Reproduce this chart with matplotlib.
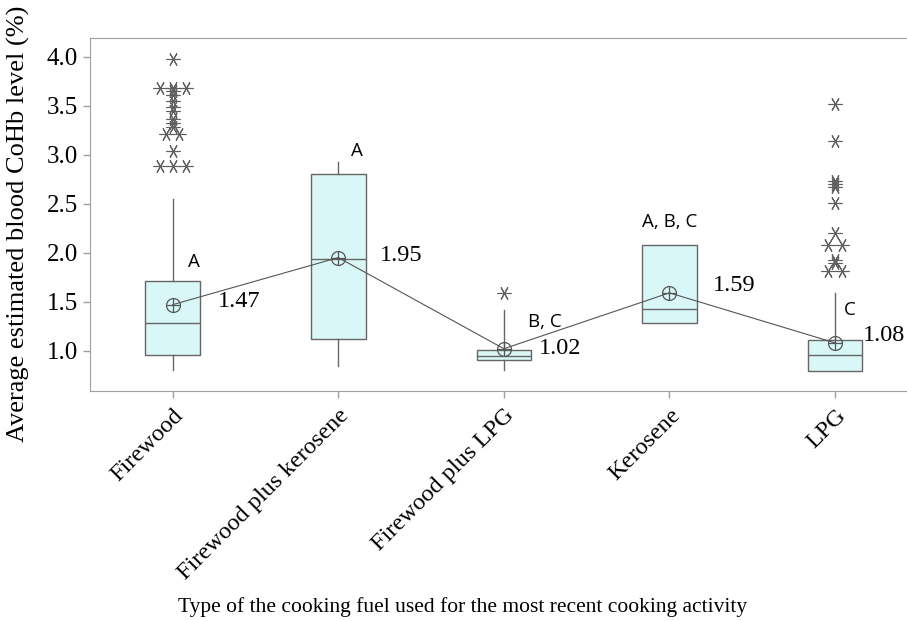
import matplotlib.pyplot as plt
import numpy as np

# fuel categories
fuels = ["Firewood", "Firewood plus kerosene", "Firewood plus LPG", "Kerosene", "LPG"]

# box statistics (CoHb %)
q1 = [0.96, 1.12, 0.90, 1.28, 0.79]
medians = [1.28, 1.94, 0.95, 1.43, 0.96]
q3 = [1.71, 2.80, 1.01, 2.08, 1.11]
whisker_low = [0.80, 0.84, 0.80, 1.28, 0.79]
whisker_high = [2.55, 2.93, 1.42, 2.08, 1.59]
means = [1.47, 1.95, 1.02, 1.59, 1.08]
mean_labels = ["1.47", "1.95", "1.02", "1.59", "1.08"]
groups = ["A", "A", "B, C", "A, B, C", "C"]

outliers = [
    [3.98, 3.68, 3.68, 3.68, 3.65, 3.61, 3.55, 3.49, 3.45, 3.36, 3.32, 3.28,
     3.21, 3.21, 3.04, 2.88, 2.88, 2.88],
    [],
    [1.59],
    [],
    [3.52, 3.14, 2.73, 2.70, 2.67, 2.51, 2.20, 2.08, 2.08, 1.93, 1.89, 1.81, 1.81],
]

box_fill = "#d9f7f7"
edge = "#666666"
grey_axis = "#a0a0a0"

fig = plt.figure(figsize=(9.07, 6.21), dpi=100)
ax = fig.add_axes([90 / 907, 0.3704, (907 - 90) / 907, 0.5684])

stats = []
for i in range(len(fuels)):
    stats.append({
        "q1": q1[i], "med": medians[i], "q3": q3[i],
        "whislo": whisker_low[i], "whishi": whisker_high[i],
        "fliers": [], "mean": means[i],
    })

pos = np.arange(len(fuels))
ax.bxp(stats, positions=pos, widths=0.33, patch_artist=True,
       showcaps=False, showfliers=False, showmeans=False,
       boxprops=dict(facecolor=box_fill, edgecolor=edge, linewidth=1.0),
       medianprops=dict(color=edge, linewidth=1.0),
       whiskerprops=dict(color=edge, linewidth=1.0))

# outliers: tied values are spread side by side like Minitab does
for i, vals in enumerate(outliers):
    vals = np.array(vals)
    for v in np.unique(vals):
        n = np.sum(vals == v)
        offs = (np.arange(n) - (n - 1) / 2) * 0.08
        ax.plot(pos[i] + offs, [v] * n, linestyle="none", marker=(6, 2, 90),
                markersize=10, markeredgewidth=0.8, color="#606060")

# mean connect line and circled-plus symbols
ax.plot(pos, means, color="#555555", linewidth=0.8, zorder=3)
ax.plot(pos, means, linestyle="none", marker="o", markersize=10,
        markerfacecolor="none", markeredgecolor="#555555", markeredgewidth=0.9, zorder=4)
ax.plot(pos, means, linestyle="none", marker="+", markersize=10,
        color="#555555", markeredgewidth=0.9, zorder=4)

# annotations
grp_dx = [0.13, 0.11, 0.25, 0.0, 0.09]
grp_y = [1.90, 3.04, 1.29, 2.31, 1.42]
lab_dx = [0.27, 0.25, 0.21, 0.26, 0.17]
lab_y = [1.50, 1.97, 1.02, 1.67, 1.15]
for i in range(len(fuels)):
    ax.text(pos[i] + grp_dx[i], grp_y[i], groups[i], ha="center", va="center",
            fontsize=13.5, family="Open Sans")
    ax.text(pos[i] + lab_dx[i], lab_y[i], mean_labels[i], ha="left", va="center",
            fontsize=17.5, family="Liberation Serif")

ax.set_xlim(-0.5, 4.435)
ax.set_ylim(0.589, 4.19)
ax.set_yticks([1.0, 1.5, 2.0, 2.5, 3.0, 3.5, 4.0])
ax.set_yticklabels(["1.0", "1.5", "2.0", "2.5", "3.0", "3.5", "4.0"],
                   family="Liberation Serif", fontsize=18)
ax.set_xticks(pos)
ax.set_xticklabels(fuels, rotation=45, ha="right", rotation_mode="anchor",
                   family="Liberation Serif", fontsize=17.5)

ax.spines["right"].set_visible(False)
for s in ["left", "top", "bottom"]:
    ax.spines[s].set_color(grey_axis)
ax.tick_params(axis="both", colors=grey_axis, length=5, width=1.0, labelcolor="black")
ax.tick_params(axis="x", pad=5)

# axis titles placed in figure coordinates to match the original layout
fig.text(18 / 907, 1 - 224 / 621, "Average estimated blood CoHb level (%)",
         rotation=90, ha="center", va="center", family="Liberation Serif", fontsize=19)
fig.text(463 / 907, 1 - 607 / 621,
         "Type of the cooking fuel used for the most recent cooking activity",
         ha="center", va="center", family="Liberation Serif", fontsize=15.5)

fig.savefig("out.png", dpi=100)
